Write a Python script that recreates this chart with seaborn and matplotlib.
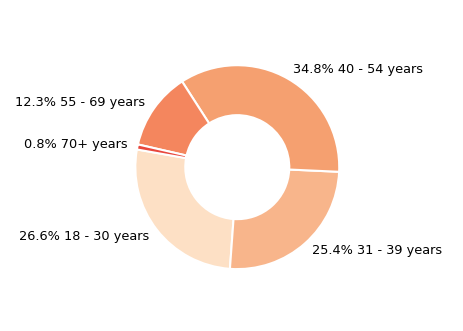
import matplotlib
matplotlib.use("Agg")
import matplotlib.pyplot as plt
import seaborn as sns

# Data
age_groups = ["18 - 30 years", "31 - 39 years", "40 - 54 years", "55 - 69 years", "70+ years"]
shares = [26.6, 25.4, 34.8, 12.3, 0.8]
slice_colors = ["#fde0c5", "#f8b58b", "#f5a070", "#f4865e", "#e8473d"]

sns.set_theme(style="white")
plt.rcParams['font.family'] = ['DejaVu Sans']

palette = sns.color_palette(slice_colors)
labels = [f"{s}% {g}" for s, g in zip(shares, age_groups)]

fig, ax = plt.subplots(figsize=(4.63, 3.31), dpi=100)
ax.pie(shares, labels=labels, colors=palette, startangle=170,
       wedgeprops={'width': 0.49, 'edgecolor': 'white', 'linewidth': 1.5},
       textprops={'fontsize': 9.3, 'color': 'black'})
ax.set_aspect('equal')

plt.savefig("out.png", dpi=100)
plt.close()
